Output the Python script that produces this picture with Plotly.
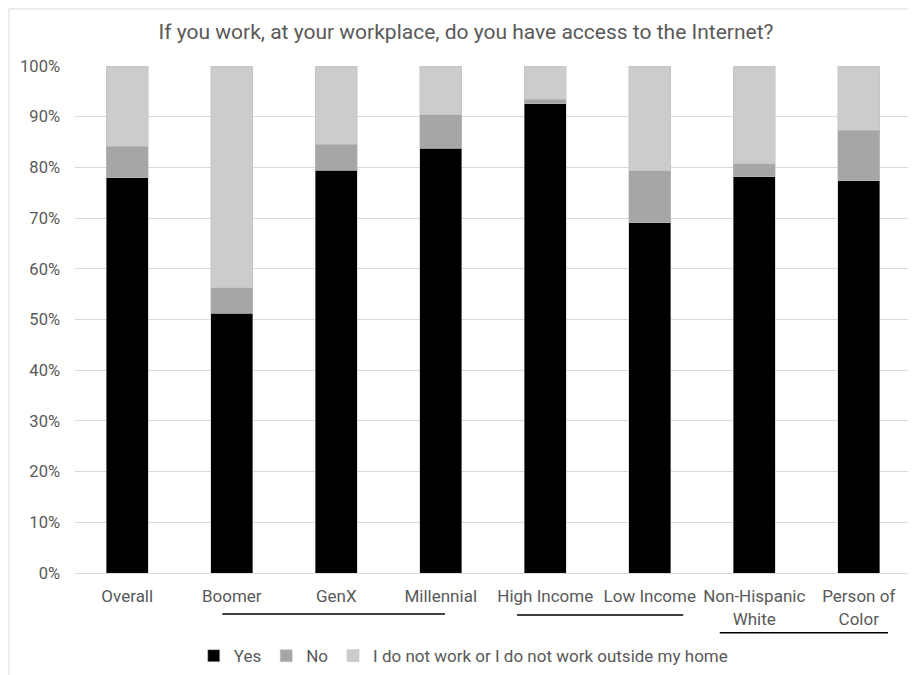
import plotly.graph_objects as go

categories = ["Overall", "Boomer", "GenX", "Millennial", "High Income", "Low Income",
              "Non-Hispanic<br>White", "Person of<br>Color"]
yes = [78.0, 51.2, 79.4, 83.8, 92.6, 69.1, 78.2, 77.4]
no = [6.2, 5.1, 5.2, 6.6, 0.8, 10.2, 2.5, 9.9]
not_work = [round(100 - a - b, 1) for a, b in zip(yes, no)]
tick_vals = [0, 10, 20, 30, 40, 50, 60, 70, 80, 90, 100]
tick_text = [f"{v}%" for v in tick_vals]

FONT = "Roboto, Liberation Sans, sans-serif"
GREY_TXT = "#595959"

fig = go.Figure()
for name, vals, col in [("Yes", yes, "#000000"), ("No", no, "#a6a6a6"),
                        ("I do not work or I do not work outside my home", not_work, "#cccccc")]:
    fig.add_trace(go.Bar(x=categories, y=vals, name=name, marker_color=col,
                         marker_line=dict(color="#bfbfbf", width=0.5)))

# page body has an 8px margin: compensate so the plot lands where the reference has it
fig.update_layout(
    barmode="stack",
    bargap=0.6,
    width=916, height=675,
    margin=dict(l=67, r=13, t=58, b=110, autoexpand=False),
    paper_bgcolor="white", plot_bgcolor="white",
    font=dict(family=FONT, color=GREY_TXT, size=17),
    title=dict(text="If you work, at your workplace, do you have access to the Internet?",
               x=0.5, xanchor="center", y=1 - 24 / 675, yanchor="middle",
               font=dict(size=21, color=GREY_TXT, family=FONT)),
    legend=dict(orientation="h", x=0.465, xanchor="center", y=-0.164, yanchor="middle",
                font=dict(size=17, color=GREY_TXT), traceorder="normal",
                itemwidth=30),
    yaxis=dict(range=[0, 100], tickvals=tick_vals, ticktext=tick_text, automargin=False,
               showgrid=True, gridcolor="#d9d9d9", gridwidth=1, zeroline=False,
               showline=False, ticks="", ticklabelstandoff=14,
               tickfont=dict(size=16.5, color=GREY_TXT)),
    xaxis=dict(showline=True, linecolor="#d9d9d9", linewidth=1, ticks="", automargin=False,
               ticklabelstandoff=8, tickfont=dict(size=17, color=GREY_TXT)),
)

# group underlines
for x0, x1, yp in [(0.91, 3.04, -0.081), (3.73, 5.32, -0.083), (5.67, 7.28, -0.118)]:
    fig.add_shape(type="line", xref="x", yref="paper", x0=x0, x1=x1, y0=yp, y1=yp,
                  line=dict(color="black", width=1.5))

# outer border of the chart (only top and left edges are visible in the reference)
fig.add_shape(type="rect", xref="paper", yref="paper",
              x0=(9 - 75) / 836, x1=(940 - 75) / 836,
              y0=-0.6, y1=(573 - 9) / 507,
              line=dict(color="#d9d9d9", width=1))

fig.write_html("out.html")
